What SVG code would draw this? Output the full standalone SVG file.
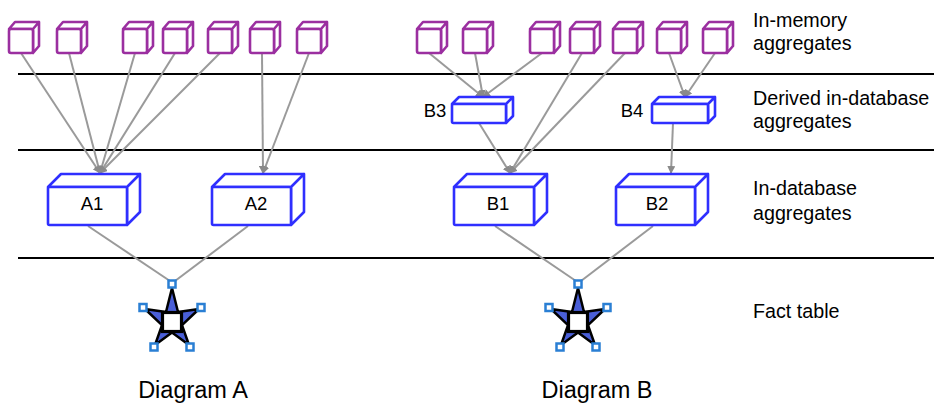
<svg xmlns="http://www.w3.org/2000/svg" xmlns:xlink="http://www.w3.org/1999/xlink" width="934" height="406" viewBox="0 0 934 406">
<style>
.sep{stroke:#000;stroke-width:2}
.cube{fill:#fff;stroke:#9b2fa0;stroke-width:2.6;stroke-linejoin:round}
.box{fill:#fff;stroke:#2f2fff;stroke-width:2.6;stroke-linejoin:round}
.conn{stroke:#9a9a9a;stroke-width:2;fill:none;marker-end:url(#arr)}
.conn2{stroke:#9a9a9a;stroke-width:2;fill:none}
.lbl{font-family:"Liberation Sans",Arial,sans-serif;font-size:19.7px;fill:#000}
.nl{font-family:"Liberation Sans",Arial,sans-serif;font-size:18.5px;fill:#000;text-anchor:middle}
.cap{font-family:"Liberation Sans",Arial,sans-serif;font-size:23.5px;fill:#000;text-anchor:middle}
.sq{fill:#fff;stroke:#2a7fd4;stroke-width:2.5}
</style>
<defs>
<marker id="arr" markerUnits="userSpaceOnUse" markerWidth="8" markerHeight="8" refX="7" refY="4" orient="auto">
<path d="M0,0 L8,4 L0,8 Z" fill="#8a8a8a"/>
</marker>
<g id="cubeShape">
<path class="cube" d="M0,7 L6,0 L30,0 L24,7 Z M24,7 L30,0 L30,24 L24,31 Z"/>
<rect class="cube" x="0" y="7" width="24" height="24" rx="2"/>
</g>
<g id="star">
<path d="M0,-34 L6,-10 L27,-13 L10,3.2 L17,23 L0,10.5 L-17,23 L-10,3.2 L-27,-13 L-6,-10 Z" fill="#4a5fd8" stroke="#000" stroke-width="2.5" stroke-linejoin="round"/>
<rect x="-9.5" y="-9.5" width="19" height="19" fill="#fff" stroke="#000" stroke-width="3.2"/>
<rect class="sq" x="-3.5" y="-41.5" width="7" height="7"/>
<rect class="sq" x="25.5" y="-18" width="7" height="7"/>
<rect class="sq" x="-32.5" y="-18" width="7" height="7"/>
<rect class="sq" x="14.5" y="21.5" width="7" height="7"/>
<rect class="sq" x="-21.5" y="21.5" width="7" height="7"/>
</g>
</defs>
<rect width="934" height="406" fill="#fff"/>
<g id="separators">
<line class="sep" x1="18" y1="74" x2="934" y2="74"/>
<line class="sep" x1="18" y1="150" x2="934" y2="150"/>
<line class="sep" x1="18" y1="258" x2="934" y2="258"/>
</g>
<g id="connectors">
<line class="conn" x1="21" y1="53" x2="100" y2="173"/>
<line class="conn" x1="69" y1="53" x2="100" y2="173"/>
<line class="conn" x1="135" y1="53" x2="100" y2="173"/>
<line class="conn" x1="175" y1="53" x2="100" y2="173"/>
<line class="conn" x1="220" y1="53" x2="100" y2="173"/>
<line class="conn" x1="262" y1="53" x2="263" y2="173"/>
<line class="conn" x1="309" y1="53" x2="263" y2="173"/>
<line class="conn" x1="429" y1="53" x2="483" y2="97"/>
<line class="conn" x1="475" y1="53" x2="483" y2="97"/>
<line class="conn" x1="542" y1="53" x2="483" y2="97"/>
<line class="conn" x1="669" y1="53" x2="685" y2="97"/>
<line class="conn" x1="715" y1="53" x2="685" y2="97"/>
<line class="conn" x1="479" y1="123" x2="510" y2="173"/>
<line class="conn" x1="582" y1="53" x2="510" y2="173"/>
<line class="conn" x1="625" y1="53" x2="510" y2="173"/>
<line class="conn" x1="673" y1="123" x2="671" y2="173"/>
<line class="conn2" x1="88" y1="226" x2="170" y2="281"/>
<line class="conn2" x1="248" y1="226" x2="175" y2="281"/>
<line class="conn2" x1="495" y1="226" x2="576" y2="281"/>
<line class="conn2" x1="653" y1="226" x2="581" y2="281"/>
</g>
<g id="memA1"><use xlink:href="#cubeShape" x="9" y="22"/></g>
<g id="memA2"><use xlink:href="#cubeShape" x="57" y="22"/></g>
<g id="memA3"><use xlink:href="#cubeShape" x="123" y="22"/></g>
<g id="memA4"><use xlink:href="#cubeShape" x="163" y="22"/></g>
<g id="memA5"><use xlink:href="#cubeShape" x="208" y="22"/></g>
<g id="memA6"><use xlink:href="#cubeShape" x="250" y="22"/></g>
<g id="memA7"><use xlink:href="#cubeShape" x="297" y="22"/></g>
<g id="memB1"><use xlink:href="#cubeShape" x="417" y="22"/></g>
<g id="memB2"><use xlink:href="#cubeShape" x="463" y="22"/></g>
<g id="memB3"><use xlink:href="#cubeShape" x="530" y="22"/></g>
<g id="memB4"><use xlink:href="#cubeShape" x="570" y="22"/></g>
<g id="memB5"><use xlink:href="#cubeShape" x="613" y="22"/></g>
<g id="memB6"><use xlink:href="#cubeShape" x="657" y="22"/></g>
<g id="memB7"><use xlink:href="#cubeShape" x="703" y="22"/></g>
<g id="A1">
<path class="box" d="M48,187 L61,174 L140,174 L127,187 Z M127,187 L140,174 L140,212 L127,225 Z"/>
<rect class="box" x="48" y="187" width="79" height="38" rx="1.5"/>
<text class="nl" x="92" y="210">A1</text>
</g>
<g id="A2">
<path class="box" d="M212,187 L225,174 L304,174 L291,187 Z M291,187 L304,174 L304,212 L291,225 Z"/>
<rect class="box" x="212" y="187" width="79" height="38" rx="1.5"/>
<text class="nl" x="256" y="210">A2</text>
</g>
<g id="B1">
<path class="box" d="M454,187 L467,174 L547,174 L534,187 Z M534,187 L547,174 L547,212 L534,225 Z"/>
<rect class="box" x="454" y="187" width="80" height="38" rx="1.5"/>
<text class="nl" x="498" y="210">B1</text>
</g>
<g id="B2">
<path class="box" d="M616,187 L629,174 L708,174 L695,187 Z M695,187 L708,174 L708,212 L695,225 Z"/>
<rect class="box" x="616" y="187" width="79" height="38" rx="1.5"/>
<text class="nl" x="657" y="210">B2</text>
</g>
<g id="B3">
<path class="box" d="M452,104 L459,97 L513,97 L506,104 Z M506,104 L513,97 L513,116 L506,123 Z"/>
<rect class="box" x="452" y="104" width="54" height="19" rx="1.5"/>
<text class="nl" x="435" y="117">B3</text>
</g>
<g id="B4">
<path class="box" d="M652,104 L659,97 L715,97 L708,104 Z M708,104 L715,97 L715,116 L708,123 Z"/>
<rect class="box" x="652" y="104" width="56" height="19" rx="1.5"/>
<text class="nl" x="632" y="117">B4</text>
</g>
<g id="factA"><use xlink:href="#star" x="172" y="322"/></g>
<g id="factB"><use xlink:href="#star" x="578" y="322"/></g>
<g id="layerLabels">
<text class="lbl" x="753" y="27">In-memory</text>
<text class="lbl" x="753" y="50">aggregates</text>
<text class="lbl" x="753" y="105">Derived in-database</text>
<text class="lbl" x="753" y="128">aggregates</text>
<text class="lbl" x="753" y="195">In-database</text>
<text class="lbl" x="753" y="220">aggregates</text>
<text class="lbl" x="753" y="318">Fact table</text>
</g>
<g id="captions">
<text class="cap" x="193" y="398">Diagram A</text>
<text class="cap" x="597" y="398">Diagram B</text>
</g>
</svg>
